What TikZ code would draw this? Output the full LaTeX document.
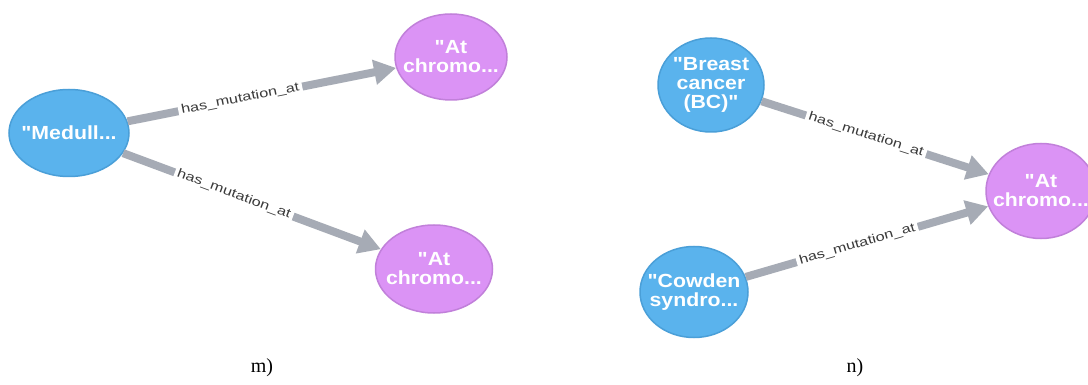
\documentclass[tikz,border=0pt]{standalone}
\usepackage{fontspec}
\setmainfont{Liberation Serif}
\newfontfamily\nodefont[FakeStretch=1.12]{Liberation Sans}
\newfontfamily\edgefont[FakeStretch=1.3]{Liberation Sans}
\usetikzlibrary{shapes.geometric,arrows.meta}
\definecolor{nblue}{HTML}{5AB3ED}
\definecolor{nblueb}{HTML}{4A9FD8}
\definecolor{npurp}{HTML}{DB93F5}
\definecolor{npurpb}{HTML}{C180DA}
\definecolor{egrey}{HTML}{A6ABB5}
\definecolor{etext}{HTML}{3A3A3A}
\newcommand{\zl}[1]{\makebox[0pt][c]{#1}}
\begin{document}
\begin{tikzpicture}[x=1pt,y=-1pt,
  gnode/.style={ellipse, inner sep=0pt, line width=1.5pt, text=white,
    font=\nodefont\bfseries\fontsize{19}{19}\selectfont, align=center},
  disease/.style={gnode, fill=nblue, draw=nblueb},
  locus/.style={gnode, fill=npurp, draw=npurpb},
  rel/.style={draw=egrey, line width=8pt, -{Triangle[length=22pt,width=24pt]}},
  rlabel/.style={sloped, fill=white, inner sep=3pt, text=etext,
    font=\edgefont\fontsize{12.5}{13}\selectfont},
  caption/.style={font=\fontsize{20}{22}\selectfont}
]
\useasboundingbox[fill=white] (0,0) rectangle (1088,385);
% panel m
\node[disease, minimum width=120pt, minimum height=87pt] (med) at (69,133) {\zl{"Medull...}};
\node[locus, minimum width=112pt, minimum height=86pt] (m1) at (451,57) {\zl{"At}\\\zl{chromo...}};
\node[locus, minimum width=117pt, minimum height=88pt] (m2) at (434,269) {\zl{"At}\\\zl{chromo...}};
\draw[rel] (med) -- node[rlabel, pos=0.42] (lm1) {has\_mutation\_at} (m1);
\draw[rel] (med) -- node[rlabel, pos=0.43] (lm2) {has\_mutation\_at} (m2);
\node[caption] (capm) at (262,368) {m)};
% panel n
\node[disease, minimum width=106pt, minimum height=94pt] (bc) at (711,85) {\zl{"Breast}\\\zl{cancer}\\\zl{(BC)"}};
\node[disease, minimum width=108pt, minimum height=91pt] (cs) at (694,292) {\zl{"Cowden}\\\zl{syndro...}};
\node[locus, minimum width=110pt, minimum height=95pt] (n1) at (1041,191) {\zl{"At}\\\zl{chromo...}};
\draw[rel] (bc) -- node[rlabel, pos=0.46] (ln1) {has\_mutation\_at} (n1);
\draw[rel] (cs) -- node[rlabel, pos=0.46] (ln2) {has\_mutation\_at} (n1);
\node[caption] (capn) at (855,368) {n)};
\end{tikzpicture}
\end{document}
